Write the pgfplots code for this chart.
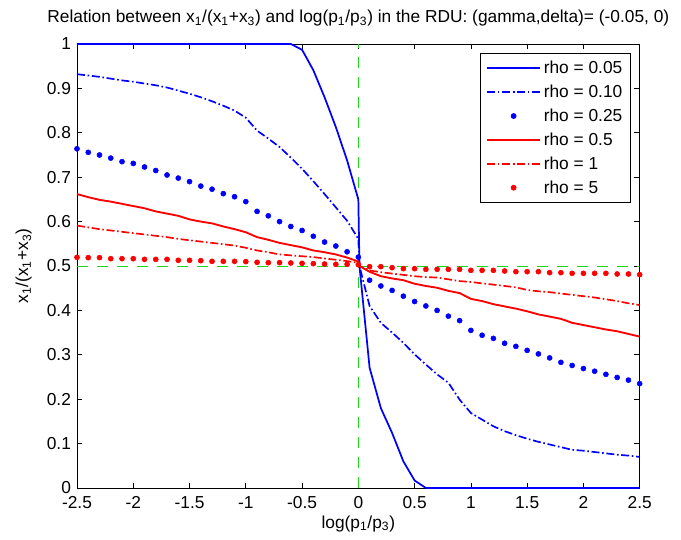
\documentclass[border=0pt]{standalone}
\usepackage{fontspec}
\setmainfont{Liberation Sans}
\usepackage{pgfplots}
\pgfplotsset{compat=1.18}
\definecolor{mgreen}{rgb}{0.1,0.85,0.1}
\begin{document}
\begin{tikzpicture}
\path[use as bounding box] (-57.75pt,-38.25pt) rectangle (453pt,366pt);
\begin{axis}[
  at={(0,0)}, anchor=south west,
  scale only axis, width=422pt, height=333pt,
  xmin=-2.5, xmax=2.5, ymin=0, ymax=1,
  xtick={-2.5,-2,...,2.5}, ytick={0,0.1,...,1},
  tick align=inside, tick pos=both, major tick length=4pt,
  axis line style={line width=0.6pt}, tick style={line width=0.5pt, black},
  font=\fontsize{13}{15}\selectfont,
  /pgf/number format/assume math mode=true,
  xticklabel style={anchor=base, yshift=-15.5pt},
  yticklabel style={anchor=east, xshift=-1pt},
  title={Relation between x\textsubscript{1}/(x\textsubscript{1}+x\textsubscript{3}) and log(p\textsubscript{1}/p\textsubscript{3}) in the RDU: (gamma,delta)= (-0.05, 0)},
  title style={at={(axis description cs:0.5,1)}, anchor=base, yshift=10pt, inner sep=0pt},
  xlabel={log(p\textsubscript{1}/p\textsubscript{3})},
  xlabel style={at={(axis description cs:0.5,0)}, anchor=base, yshift=-30pt, inner sep=0pt},
  ylabel={x\textsubscript{1}/(x\textsubscript{1}+x\textsubscript{3})},
  ylabel style={at={(axis description cs:-0.0948,0.5)}, anchor=center},
  legend style={at={(axis description cs:0.984,0.979)}, anchor=north east, draw=black, line width=0.5pt, font=\fontsize{13}{15}\selectfont, row sep=3pt, inner xsep=4pt, inner ysep=3.5pt},
  legend cell align=left,
  legend image code/.code={\draw[mark repeat=2,mark phase=2,#1] plot coordinates {(0cm,0cm) (0.7cm,0cm) (1.4cm,0cm)};},
]
% reference lines (not in legend)
\addplot[mgreen, line width=0.5pt, dash pattern=on 8pt off 7pt, forget plot] coordinates {(0,0) (0,1)};
\addplot[mgreen, line width=0.5pt, dash pattern=on 8pt off 7pt, forget plot] coordinates {(-2.5,0.5) (2.5,0.5)};

% rho = 0.05
\addplot[blue, line width=1.3pt, no marks] coordinates {
(-2.5,1) (-0.6,1) (-0.5,0.987) (-0.4,0.941) (-0.3,0.880) (-0.2,0.813) (-0.1,0.738) (0,0.650)
(0.01,0.5) (0.1,0.271) (0.2,0.180) (0.3,0.124) (0.4,0.060) (0.5,0.017) (0.6,0) (2.5,0)};
\addlegendentry{rho = 0.05}

% rho = 0.10
\addplot[blue, line width=1.25pt, no marks, dash pattern=on 6pt off 2pt on 1.2pt off 2pt] coordinates {
(-2.5,0.932) (-2.4,0.929) (-2.3,0.926) (-2.2,0.922) (-2.1,0.918) (-2.0,0.915) (-1.9,0.911) (-1.8,0.907)
(-1.7,0.902) (-1.6,0.895) (-1.5,0.888) (-1.4,0.880) (-1.3,0.871) (-1.2,0.861) (-1.1,0.850) (-1.0,0.834)
(-0.9,0.805) (-0.8,0.787) (-0.7,0.768) (-0.6,0.744) (-0.5,0.719) (-0.4,0.691) (-0.3,0.662) (-0.2,0.632)
(-0.1,0.602) (0,0.561) (0.01,0.5) (0.1,0.410) (0.2,0.372) (0.3,0.350) (0.4,0.327) (0.5,0.301) (0.6,0.278)
(0.7,0.256) (0.8,0.237) (0.9,0.199) (1.0,0.169) (1.1,0.154) (1.2,0.139) (1.3,0.128) (1.4,0.119) (1.5,0.111)
(1.6,0.104) (1.7,0.098) (1.8,0.092) (1.9,0.086) (2.0,0.084) (2.1,0.081) (2.2,0.078) (2.3,0.075) (2.4,0.073) (2.5,0.070)};
\addlegendentry{rho = 0.10}

% rho = 0.25
\addplot[blue, only marks, mark=*, mark size=1.9pt, mark options={draw=blue, fill=blue}] coordinates {
(-2.5,0.764) (-2.4,0.756) (-2.3,0.750) (-2.2,0.743) (-2.1,0.735) (-2.0,0.731) (-1.9,0.723) (-1.8,0.715)
(-1.7,0.705) (-1.6,0.698) (-1.5,0.690) (-1.4,0.680) (-1.3,0.673) (-1.2,0.663) (-1.1,0.656) (-1.0,0.645)
(-0.9,0.623) (-0.8,0.613) (-0.7,0.600) (-0.6,0.589) (-0.5,0.580) (-0.4,0.567) (-0.3,0.554) (-0.2,0.545)
(-0.1,0.532) (0,0.520) (0.1,0.468) (0.2,0.455) (0.3,0.445) (0.4,0.432) (0.5,0.420) (0.6,0.410) (0.7,0.400)
(0.8,0.387) (0.9,0.377) (1.0,0.355) (1.1,0.344) (1.2,0.337) (1.3,0.326) (1.4,0.319) (1.5,0.310) (1.6,0.302)
(1.7,0.293) (1.8,0.283) (1.9,0.276) (2.0,0.269) (2.1,0.263) (2.2,0.256) (2.3,0.249) (2.4,0.243) (2.5,0.235)};
\addlegendentry{rho = 0.25}

% rho = 0.5
\addplot[red, line width=1.4pt, no marks] coordinates {
(-2.5,0.662) (-2.4,0.655) (-2.3,0.649) (-2.2,0.645) (-2.1,0.640) (-2.0,0.635) (-1.9,0.630) (-1.8,0.623)
(-1.7,0.618) (-1.6,0.613) (-1.5,0.605) (-1.4,0.600) (-1.3,0.596) (-1.2,0.589) (-1.1,0.583) (-1.0,0.576)
(-0.9,0.565) (-0.8,0.559) (-0.7,0.552) (-0.6,0.547) (-0.5,0.542) (-0.4,0.535) (-0.3,0.531) (-0.2,0.526)
(-0.1,0.519) (0,0.510) (0.01,0.5) (0.1,0.487) (0.2,0.477) (0.3,0.472) (0.4,0.468) (0.5,0.460) (0.6,0.455)
(0.7,0.451) (0.8,0.444) (0.9,0.439) (1.0,0.426) (1.1,0.421) (1.2,0.414) (1.3,0.409) (1.4,0.404) (1.5,0.398)
(1.6,0.391) (1.7,0.386) (1.8,0.381) (1.9,0.372) (2.0,0.367) (2.1,0.362) (2.2,0.357) (2.3,0.353) (2.4,0.347) (2.5,0.341)};
\addlegendentry{rho = 0.5}

% rho = 1
\addplot[red, line width=1.25pt, no marks, dash pattern=on 6pt off 2pt on 1.2pt off 2pt] coordinates {
(-2.5,0.591) (-2.4,0.587) (-2.3,0.583) (-2.2,0.580) (-2.1,0.577) (-2.0,0.574) (-1.9,0.571) (-1.8,0.568)
(-1.7,0.565) (-1.6,0.561) (-1.5,0.558) (-1.4,0.555) (-1.3,0.552) (-1.2,0.549) (-1.1,0.546) (-1.0,0.541)
(-0.9,0.535) (-0.8,0.531) (-0.7,0.526) (-0.6,0.524) (-0.5,0.522) (-0.4,0.520) (-0.3,0.517) (-0.2,0.514)
(-0.1,0.511) (0,0.507) (0.01,0.5) (0.1,0.490) (0.2,0.486) (0.3,0.483) (0.4,0.480) (0.5,0.477) (0.6,0.475)
(0.7,0.474) (0.8,0.470) (0.9,0.466) (1.0,0.464) (1.1,0.461) (1.2,0.458) (1.3,0.455) (1.4,0.452) (1.5,0.446)
(1.6,0.443) (1.7,0.441) (1.8,0.438) (1.9,0.435) (2.0,0.432) (2.1,0.429) (2.2,0.425) (2.3,0.421) (2.4,0.416) (2.5,0.412)};
\addlegendentry{rho = 1}

% rho = 5
\addplot[red, only marks, mark=*, mark size=1.9pt, mark options={draw=red, fill=red}] coordinates {
(-2.5,0.5195) (-2.4,0.5188) (-2.3,0.5188) (-2.2,0.5165) (-2.1,0.5165) (-2.0,0.5165) (-1.9,0.515) (-1.8,0.515)
(-1.7,0.515) (-1.6,0.5128) (-1.5,0.5128) (-1.4,0.512) (-1.3,0.5105) (-1.2,0.5105) (-1.1,0.5105) (-1.0,0.5098)
(-0.9,0.5083) (-0.8,0.5075) (-0.7,0.5075) (-0.6,0.5068) (-0.5,0.506) (-0.4,0.5053) (-0.3,0.5045) (-0.2,0.5038)
(-0.1,0.5038) (0,0.503) (0.1,0.4985) (0.2,0.4985) (0.3,0.4962) (0.4,0.494) (0.5,0.494) (0.6,0.4925) (0.7,0.4925)
(0.8,0.4925) (0.9,0.4925) (1.0,0.4902) (1.1,0.4902) (1.2,0.4902) (1.3,0.4887) (1.4,0.4872) (1.5,0.4872) (1.6,0.4872)
(1.7,0.485) (1.8,0.485) (1.9,0.4835) (2.0,0.4835) (2.1,0.4835) (2.2,0.4835) (2.3,0.482) (2.4,0.482) (2.5,0.4805)};
\addlegendentry{rho = 5}
\end{axis}
\end{tikzpicture}
\end{document}
